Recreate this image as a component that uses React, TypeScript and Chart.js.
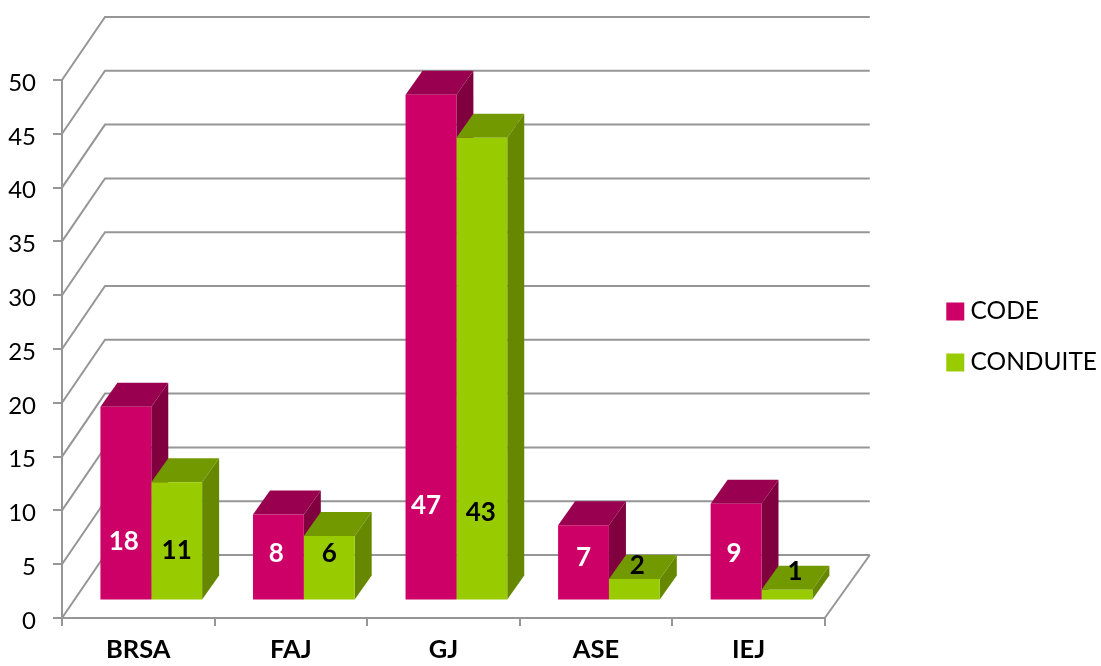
import React, { useEffect, useRef } from "react";
import { Chart, registerables } from "chart.js";

Chart.register(...registerables);

const categories = ["BRSA", "FAJ", "GJ", "ASE", "IEJ"];
const codeValues = [18, 8, 47, 7, 9];
const conduiteValues = [11, 6, 43, 2, 1];
const codeLabelLevels = [5.5, 4.4, 8.8, 4, 4.4];
const conduiteLabelLevels = [4.6, 4.4, 8.2, 3.2, 2.7];
const codeLabelNudge = [-2, -2, -5, 0, -2];
const conduiteLabelNudge = [0, 0, -1, 3, 8];

const FONT = "Lato, Carlito, sans-serif";
const GRID = "#969696";
const BAR_SHIFT = { x: 13, y: -17.5 };
const DEPTH = { x: 17, y: -24 };
const WALL = { x: 43, y: -63 };
const WALL_RIGHT = 45;
const LEGEND_SHIFT = -36;
const SHADES = [
  { front: "#CC0066", top: "#990050", side: "#80003F", text: "#FFFFFF" },
  { front: "#99CC00", top: "#739900", side: "#668800", text: "#000000" },
];

const poly = (ctx: CanvasRenderingContext2D, pts: number[][], fill: string) => {
  ctx.fillStyle = fill;
  ctx.beginPath();
  pts.forEach((p, i) => (i ? ctx.lineTo(p[0], p[1]) : ctx.moveTo(p[0], p[1])));
  ctx.closePath();
  ctx.fill();
};

const walls3d = {
  id: "walls3d",
  afterLayout(chart: any) {
    chart.legend.top += LEGEND_SHIFT;
    chart.legend.bottom += LEGEND_SHIFT;
  },
  beforeDatasetsDraw(chart: any) {
    const { ctx, chartArea } = chart;
    const y = chart.scales.y;
    ctx.save();
    ctx.strokeStyle = GRID;
    ctx.lineWidth = 2;
    y.ticks.forEach((_: any, i: number) => {
      const py = y.getPixelForTick(i);
      ctx.beginPath();
      ctx.moveTo(chartArea.left, py);
      ctx.lineTo(chartArea.left + WALL.x, py + WALL.y);
      ctx.lineTo(chartArea.right + WALL_RIGHT, py + WALL.y);
      ctx.stroke();
    });
    ctx.beginPath();
    ctx.moveTo(chartArea.right, chartArea.bottom);
    ctx.lineTo(chartArea.right + WALL_RIGHT, chartArea.bottom + WALL.y);
    ctx.stroke();
    ctx.translate(BAR_SHIFT.x, BAR_SHIFT.y);
    chart.data.datasets.forEach((_: any, d: number) => {
      const shade = SHADES[d];
      chart.getDatasetMeta(d).data.forEach((bar: any) => {
        const l = bar.x - bar.width / 2;
        const r = bar.x + bar.width / 2;
        const t = bar.y;
        const b = bar.base;
        poly(ctx, [[l, t], [l + DEPTH.x, t + DEPTH.y], [r + DEPTH.x, t + DEPTH.y], [r, t]], shade.top);
        poly(ctx, [[r, t], [r + DEPTH.x, t + DEPTH.y], [r + DEPTH.x, b + DEPTH.y], [r, b]], shade.side);
      });
    });
    ctx.restore();
  },
  beforeDatasetDraw(chart: any) {
    chart.ctx.save();
    chart.ctx.translate(BAR_SHIFT.x, BAR_SHIFT.y);
  },
  afterDatasetDraw(chart: any) {
    chart.ctx.restore();
  },
  afterDatasetsDraw(chart: any) {
    const { ctx } = chart;
    const y = chart.scales.y;
    const levels = [codeLabelLevels, conduiteLabelLevels];
    const nudges = [codeLabelNudge, conduiteLabelNudge];
    ctx.save();
    ctx.font = `bold 26px ${FONT}`;
    ctx.textAlign = "center";
    ctx.textBaseline = "middle";
    chart.data.datasets.forEach((ds: any, d: number) => {
      ctx.fillStyle = SHADES[d].text;
      chart.getDatasetMeta(d).data.forEach((bar: any, i: number) => {
        ctx.fillText(
          String(ds.data[i]),
          bar.x + BAR_SHIFT.x + nudges[d][i],
          y.getPixelForValue(levels[d][i]) + BAR_SHIFT.y,
        );
      });
    });
    ctx.restore();
  },
};

export default function App() {
  const ref = useRef<HTMLCanvasElement>(null);
  useEffect(() => {
    const chart = new Chart(ref.current as HTMLCanvasElement, {
      type: "bar",
      plugins: [walls3d],
      data: {
        labels: categories,
        datasets: [
          { label: "CODE", data: codeValues, backgroundColor: SHADES[0].front, clip: false },
          { label: "CONDUITE", data: conduiteValues, backgroundColor: SHADES[1].front, clip: false },
        ],
      } as any,
      options: {
        responsive: false,
        animation: false,
        events: [],
        layout: { padding: { top: 80, right: -6, left: 0, bottom: 0 } },
        datasets: { bar: { categoryPercentage: 2 / 3, barPercentage: 1 } },
        plugins: {
          tooltip: { enabled: false },
          legend: {
            position: "right",
            labels: {
              color: "#000",
              font: { family: FONT, size: 24.5 },
              boxWidth: 6,
              boxHeight: 6,
              padding: 26.5,
              generateLabels: (c: any) =>
                c.data.datasets.map((ds: any, i: number) => ({
                  text: ds.label,
                  fillStyle: ds.backgroundColor,
                  strokeStyle: ds.backgroundColor,
                  lineWidth: 12,
                  fontColor: "#000",
                  datasetIndex: i,
                })),
            },
          },
        },
        scales: {
          x: {
            grid: { drawOnChartArea: false, offset: true, color: GRID, lineWidth: 2, tickLength: 8 },
            border: { color: GRID, width: 2 },
            ticks: { color: "#000", padding: 8, maxRotation: 0, font: { family: FONT, size: 25.5, weight: "bold" } },
            afterFit: (s: any) => { s.height = 48; },
          },
          y: {
            min: 0,
            max: 50,
            grid: { drawOnChartArea: false, color: GRID, lineWidth: 2, tickLength: 9 },
            border: { color: GRID, width: 2 },
            ticks: { color: "#000", stepSize: 5, padding: 17, labelOffset: 3, font: { family: FONT, size: 24 } },
            afterFit: (s: any) => { s.width = 62; },
          },
          y2: {
            position: "right",
            display: true,
            grid: { display: false },
            border: { display: false },
            ticks: { display: false },
            afterFit: (s: any) => { s.width = 101; },
          },
        },
      } as any,
    });
    return () => chart.destroy();
  }, []);
  return (
    <div style={{ position: "absolute", left: 0, top: 0, width: 1101, height: 666, background: "#fff" }}>
      <canvas ref={ref} width={1101} height={666} style={{ display: "block" }} />
    </div>
  );
}
